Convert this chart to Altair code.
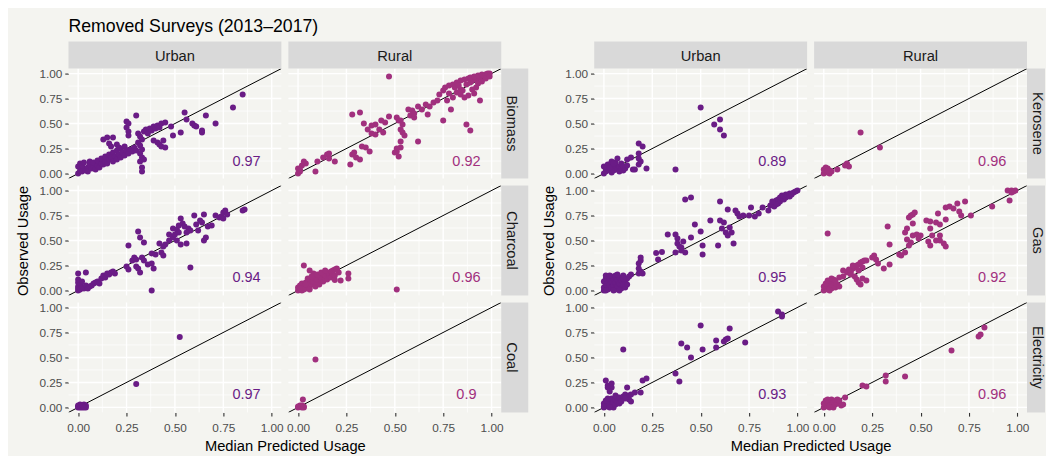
import altair as alt
import pandas as pd

# ------------------------------------------------------------------ data
fuels_left = ["Biomass", "Charcoal", "Coal"]
fuels_right = ["Kerosene", "Gas", "Electricity"]
areas = ["Urban", "Rural"]
tick_values = [0, 0.25, 0.5, 0.75, 1]
minor_values = [0.125, 0.375, 0.625, 0.875]

r_urban = ["0.97", "0.94", "0.97", "0.89", "0.95", "0.93"]
r_rural = ["0.92", "0.96", "0.9", "0.96", "0.92", "0.96"]

biomass_urban = [
    [0.00, 0.00], [0.01, 0.03], [0.00, 0.07], [0.02, 0.02], [0.01, 0.10], [0.03, 0.05], [0.02, 0.08],
    [0.04, 0.03], [0.03, 0.11], [0.05, 0.06], [0.05, 0.02], [0.06, 0.09], [0.07, 0.05], [0.06, 0.12],
    [0.08, 0.07], [0.09, 0.04], [0.08, 0.11], [0.10, 0.08], [0.10, 0.13], [0.11, 0.06], [0.12, 0.10],
    [0.12, 0.15], [0.13, 0.09], [0.14, 0.12], [0.14, 0.17], [0.15, 0.10], [0.16, 0.14], [0.16, 0.19],
    [0.17, 0.16], [0.18, 0.12], [0.18, 0.21], [0.19, 0.17], [0.20, 0.14], [0.20, 0.23], [0.21, 0.19],
    [0.22, 0.16], [0.22, 0.25], [0.23, 0.21], [0.24, 0.18], [0.24, 0.27], [0.25, 0.23], [0.26, 0.20],
    [0.27, 0.24], [0.28, 0.22], [0.29, 0.26], [0.30, 0.23],
    [0.13, 0.34], [0.15, 0.36], [0.16, 0.30], [0.18, 0.36], [0.20, 0.29], [0.17, 0.27], [0.21, 0.26],
    [0.25, 0.52], [0.25, 0.46], [0.26, 0.42], [0.26, 0.38], [0.26, 0.50], [0.30, 0.58],
    [0.31, 0.40], [0.32, 0.37], [0.33, 0.34], [0.31, 0.31], [0.34, 0.42], [0.35, 0.44], [0.36, 0.40],
    [0.37, 0.45], [0.38, 0.43], [0.39, 0.47], [0.40, 0.45], [0.41, 0.48], [0.42, 0.46], [0.43, 0.50],
    [0.45, 0.51], [0.48, 0.47],
    [0.32, 0.28], [0.33, 0.24], [0.32, 0.20], [0.33, 0.16], [0.32, 0.12], [0.33, 0.06], [0.33, 0.02],
    [0.34, 0.14],
    [0.39, 0.33], [0.41, 0.31], [0.42, 0.29], [0.43, 0.27], [0.45, 0.26], [0.44, 0.33], [0.49, 0.38],
    [0.53, 0.41], [0.55, 0.61], [0.56, 0.54], [0.59, 0.50], [0.60, 0.48], [0.61, 0.47], [0.64, 0.41],
    [0.64, 0.43], [0.66, 0.58], [0.71, 0.50], [0.80, 0.66], [0.85, 0.79],
]

biomass_rural = [
    [0.00, 0.00], [0.01, 0.02], [0.00, 0.05], [0.02, 0.08], [0.03, 0.12], [0.01, 0.04], [0.04, 0.10],
    [0.09, 0.02], [0.10, 0.12], [0.13, 0.16], [0.15, 0.19], [0.16, 0.15], [0.19, 0.12], [0.16, 0.20],
    [0.27, 0.09], [0.28, 0.19], [0.30, 0.16], [0.32, 0.14], [0.33, 0.27], [0.35, 0.26], [0.37, 0.22],
    [0.29, 0.21],
    [0.28, 0.59], [0.32, 0.61], [0.34, 0.50], [0.38, 0.48], [0.40, 0.49], [0.43, 0.53], [0.45, 0.51],
    [0.47, 0.57], [0.42, 0.44], [0.44, 0.41], [0.40, 0.39], [0.36, 0.44], [0.38, 0.40],
    [0.47, 0.97],
    [0.51, 0.56], [0.52, 0.53], [0.53, 0.53], [0.54, 0.49], [0.53, 0.44], [0.54, 0.41], [0.55, 0.38],
    [0.53, 0.32], [0.53, 0.26], [0.51, 0.22], [0.50, 0.21], [0.52, 0.17], [0.51, 0.25],
    [0.57, 0.64], [0.59, 0.63], [0.62, 0.67], [0.58, 0.58], [0.60, 0.56], [0.62, 0.32], [0.67, 0.59],
    [0.68, 0.67], [0.66, 0.69], [0.70, 0.71], [0.72, 0.73], [0.73, 0.79], [0.64, 0.64], [0.60, 0.60],
    [0.75, 0.53], [0.79, 0.64], [0.77, 0.73], [0.80, 0.76], [0.82, 0.81], [0.84, 0.84], [0.85, 0.83],
    [0.87, 0.89], [0.89, 0.91], [0.90, 0.93], [0.92, 0.94], [0.94, 0.96], [0.96, 0.98], [0.97, 0.99],
    [0.99, 1.00],
    [0.75, 0.83], [0.76, 0.86], [0.78, 0.88], [0.80, 0.89], [0.82, 0.91], [0.84, 0.93], [0.86, 0.94],
    [0.88, 0.95], [0.89, 0.96], [0.91, 0.97], [0.93, 0.98], [0.95, 0.99], [0.97, 0.99], [0.98, 1.00],
    [0.84, 0.79], [0.86, 0.76], [0.88, 0.78], [0.91, 0.80], [0.94, 0.73], [0.87, 0.49], [0.89, 0.43],
    [0.92, 0.86], [0.90, 0.84], [0.81, 0.86], [0.78, 0.80], [0.83, 0.88], [0.95, 0.92], [0.97, 0.95],
    [0.99, 0.97], [0.93, 0.90],
]

charcoal_urban = [
    [0.00, 0.00], [0.00, 0.02], [0.00, 0.04], [0.01, 0.06], [0.00, 0.08], [0.00, 0.11], [0.00, 0.17],
    [0.01, 0.01], [0.02, 0.03], [0.03, 0.02], [0.04, 0.05], [0.02, 0.09], [0.04, 0.18], [0.05, 0.02],
    [0.06, 0.04], [0.07, 0.05], [0.08, 0.07], [0.09, 0.08], [0.10, 0.09], [0.11, 0.07], [0.12, 0.12],
    [0.13, 0.15], [0.14, 0.13], [0.15, 0.17], [0.16, 0.16], [0.17, 0.18], [0.18, 0.19], [0.19, 0.17],
    [0.25, 0.24], [0.26, 0.21], [0.26, 0.45], [0.28, 0.30], [0.29, 0.33], [0.30, 0.31], [0.30, 0.24],
    [0.31, 0.22], [0.32, 0.18], [0.31, 0.59], [0.32, 0.53], [0.34, 0.48], [0.33, 0.33], [0.34, 0.30],
    [0.36, 0.26], [0.38, 0.27], [0.39, 0.22], [0.38, 0.00], [0.38, 0.37], [0.40, 0.36],
    [0.42, 0.47], [0.44, 0.44], [0.43, 0.38], [0.44, 0.35], [0.45, 0.46], [0.47, 0.50], [0.49, 0.53],
    [0.50, 0.56], [0.49, 0.62], [0.51, 0.61], [0.52, 0.65], [0.53, 0.72], [0.54, 0.67], [0.55, 0.64],
    [0.52, 0.58], [0.51, 0.50], [0.53, 0.46], [0.56, 0.47], [0.57, 0.62], [0.58, 0.23],
    [0.60, 0.75], [0.61, 0.66], [0.62, 0.60], [0.63, 0.70], [0.64, 0.68], [0.65, 0.76], [0.66, 0.53],
    [0.65, 0.50], [0.67, 0.64], [0.69, 0.65], [0.71, 0.75], [0.73, 0.73], [0.74, 0.74], [0.75, 0.78],
    [0.76, 0.80], [0.77, 0.76], [0.75, 0.72], [0.85, 0.80], [0.86, 0.81], [0.58, 0.60], [0.56, 0.58],
    [0.47, 0.56],
]

charcoal_rural = [
    [0.00, 0.00], [0.01, 0.01], [0.00, 0.03], [0.02, 0.02], [0.01, 0.05], [0.03, 0.04], [0.02, 0.07],
    [0.04, 0.02], [0.05, 0.05], [0.04, 0.08], [0.06, 0.03], [0.06, 0.07], [0.07, 0.10], [0.05, 0.12],
    [0.08, 0.06], [0.08, 0.09], [0.09, 0.12], [0.09, 0.04], [0.10, 0.08], [0.10, 0.11], [0.11, 0.14],
    [0.11, 0.06], [0.12, 0.10], [0.12, 0.13], [0.13, 0.16], [0.13, 0.09], [0.14, 0.12], [0.14, 0.15],
    [0.15, 0.18], [0.15, 0.11], [0.16, 0.14], [0.16, 0.17], [0.17, 0.19], [0.17, 0.13], [0.18, 0.16],
    [0.18, 0.20], [0.19, 0.21], [0.19, 0.15], [0.20, 0.22], [0.21, 0.18], [0.20, 0.21], [0.03, 0.25],
    [0.06, 0.20], [0.08, 0.17], [0.07, 0.14], [0.10, 0.16], [0.12, 0.18], [0.14, 0.20], [0.26, 0.17],
    [0.26, 0.12], [0.22, 0.10], [0.19, 0.105], [0.51, 0.01], [0.02, 0.00], [0.03, 0.01], [0.01, 0.02],
    [0.06, 0.01], [0.04, 0.06],
]

coal_urban = [
    [0.00, 0.00], [0.01, 0.00], [0.02, 0.01], [0.00, 0.02], [0.01, 0.03], [0.02, 0.00], [0.03, 0.01],
    [0.03, 0.03], [0.04, 0.02], [0.04, 0.00], [0.00, 0.01], [0.01, 0.01], [0.02, 0.02], [0.03, 0.00],
    [0.30, 0.235], [0.525, 0.705],
]

coal_rural = [
    [0.00, 0.00], [0.01, 0.01], [0.02, 0.00], [0.01, 0.02], [0.03, 0.01], [0.02, 0.02], [0.00, 0.01],
    [0.03, 0.00], [0.025, 0.08], [0.09, 0.48],
]

kerosene_urban = [
    [0.00, 0.00], [0.01, 0.02], [0.02, 0.05], [0.00, 0.07], [0.03, 0.03], [0.03, 0.09], [0.04, 0.01],
    [0.05, 0.06], [0.05, 0.03], [0.06, 0.08], [0.06, 0.11], [0.07, 0.04], [0.07, 0.15], [0.08, 0.07],
    [0.08, 0.02], [0.09, 0.05], [0.09, 0.10], [0.10, 0.03], [0.10, 0.07], [0.11, 0.05], [0.12, 0.08],
    [0.12, 0.14], [0.14, 0.16], [0.15, 0.04], [0.04, 0.12], [0.02, 0.09], [0.01, 0.05], [0.03, 0.06],
    [0.05, 0.10], [0.16, 0.04], [0.18, 0.09], [0.18, 0.20], [0.19, 0.12], [0.22, 0.05], [0.18, 0.15],
    [0.18, 0.30], [0.20, 0.27],
    [0.37, 0.04], [0.50, 0.66], [0.57, 0.49], [0.60, 0.54], [0.60, 0.44], [0.62, 0.38],
]

kerosene_rural = [
    [0.00, 0.00], [0.01, 0.02], [0.02, 0.01], [0.00, 0.04], [0.02, 0.05], [0.03, 0.03], [0.01, 0.06],
    [0.03, 0.00], [0.04, 0.02], [0.02, 0.03], [0.07, 0.04], [0.12, 0.10], [0.13, 0.07], [0.11, 0.08],
    [0.19, 0.41], [0.29, 0.26],
]

gas_urban = [
    [0.00, 0.00], [0.00, 0.03], [0.01, 0.06], [0.00, 0.09], [0.01, 0.12], [0.01, 0.15], [0.02, 0.01],
    [0.02, 0.04], [0.02, 0.08], [0.03, 0.11], [0.03, 0.02], [0.03, 0.06], [0.04, 0.14], [0.04, 0.09],
    [0.04, 0.03], [0.05, 0.05], [0.05, 0.12], [0.06, 0.01], [0.06, 0.08], [0.06, 0.15], [0.07, 0.04],
    [0.07, 0.11], [0.08, 0.07], [0.08, 0.13], [0.09, 0.02], [0.09, 0.10], [0.10, 0.06], [0.10, 0.15],
    [0.11, 0.09], [0.11, 0.03], [0.12, 0.12], [0.12, 0.06], [0.13, 0.14], [0.14, 0.16], [0.05, 0.00],
    [0.08, 0.00], [0.01, 0.00], [0.03, 0.15], [0.10, 0.12], [0.07, 0.16],
    [0.18, 0.17], [0.18, 0.22], [0.18, 0.27], [0.19, 0.30], [0.19, 0.33], [0.19, 0.19], [0.20, 0.17],
    [0.27, 0.375], [0.30, 0.385], [0.28, 0.31], [0.33, 0.56], [0.37, 0.56], [0.38, 0.52], [0.38, 0.47],
    [0.39, 0.44], [0.40, 0.40], [0.37, 0.38], [0.41, 0.49], [0.40, 0.43], [0.42, 0.38], [0.42, 0.91],
    [0.45, 0.93], [0.45, 0.53], [0.47, 0.66], [0.50, 0.59], [0.51, 0.45], [0.51, 0.36], [0.55, 0.70],
    [0.59, 0.45], [0.60, 0.89], [0.60, 0.70], [0.61, 0.62], [0.62, 0.68], [0.63, 0.58], [0.64, 0.55],
    [0.64, 0.81], [0.65, 0.63], [0.66, 0.58], [0.67, 0.47], [0.68, 0.80], [0.69, 0.77], [0.70, 0.74],
    [0.72, 0.75], [0.75, 0.75], [0.76, 0.83], [0.78, 0.74], [0.80, 0.77], [0.82, 0.83],
    [0.85, 0.80], [0.86, 0.85], [0.87, 0.86], [0.88, 0.88], [0.88, 0.84], [0.89, 0.90], [0.90, 0.87],
    [0.90, 0.91], [0.91, 0.89], [0.91, 0.93], [0.92, 0.92], [0.92, 0.95], [0.93, 0.91], [0.93, 0.94],
    [0.94, 0.96], [0.94, 0.93], [0.95, 0.95], [0.96, 0.97], [0.96, 0.94], [0.97, 0.96], [0.98, 0.98],
    [0.99, 0.99], [1.00, 1.00], [0.89, 0.86], [0.87, 0.89],
]

gas_rural = [
    [0.00, 0.00], [0.01, 0.02], [0.00, 0.04], [0.02, 0.01], [0.02, 0.05], [0.03, 0.03], [0.03, 0.07],
    [0.04, 0.02], [0.04, 0.09], [0.05, 0.05], [0.05, 0.11], [0.06, 0.03], [0.06, 0.08], [0.07, 0.06],
    [0.08, 0.04], [0.01, 0.07], [0.02, 0.10], [0.04, 0.12], [0.06, 0.10], [0.03, 0.00],
    [0.02, 0.57],
    [0.10, 0.14], [0.10, 0.20], [0.12, 0.18], [0.14, 0.19], [0.15, 0.22], [0.16, 0.23], [0.17, 0.25],
    [0.18, 0.26], [0.19, 0.28], [0.20, 0.29], [0.21, 0.30], [0.22, 0.30], [0.14, 0.16], [0.16, 0.14],
    [0.17, 0.11], [0.18, 0.08], [0.19, 0.06], [0.20, 0.12], [0.22, 0.10], [0.15, 0.25], [0.18, 0.20],
    [0.20, 0.23], [0.13, 0.21], [0.08, 0.13],
    [0.25, 0.33], [0.26, 0.35], [0.27, 0.31], [0.28, 0.27], [0.31, 0.22], [0.33, 0.64], [0.34, 0.46],
    [0.34, 0.26], [0.39, 0.36], [0.40, 0.35], [0.42, 0.38],
    [0.42, 0.58], [0.43, 0.62], [0.44, 0.73], [0.45, 0.75], [0.46, 0.76], [0.47, 0.78], [0.43, 0.51],
    [0.45, 0.48], [0.44, 0.45], [0.46, 0.55], [0.48, 0.56], [0.50, 0.55], [0.46, 0.67], [0.49, 0.52],
    [0.53, 0.70], [0.55, 0.69], [0.59, 0.77], [0.58, 0.68], [0.55, 0.62], [0.56, 0.55], [0.54, 0.49],
    [0.55, 0.45], [0.58, 0.50], [0.60, 0.50], [0.62, 0.47], [0.63, 0.44], [0.60, 0.55], [0.60, 0.66],
    [0.63, 0.71], [0.63, 0.83], [0.65, 0.84], [0.67, 0.82], [0.69, 0.87], [0.70, 0.79], [0.71, 0.75],
    [0.73, 0.89], [0.76, 0.75], [0.87, 0.84], [0.95, 1.00], [0.96, 0.90], [0.97, 1.00], [0.98, 0.99],
    [0.99, 1.00], [0.97, 0.98],
]

electricity_urban = [
    [0.00, 0.00], [0.01, 0.02], [0.00, 0.04], [0.02, 0.01], [0.02, 0.05], [0.03, 0.03], [0.03, 0.07],
    [0.04, 0.02], [0.04, 0.09], [0.05, 0.05], [0.05, 0.00], [0.06, 0.03], [0.06, 0.08], [0.07, 0.06],
    [0.08, 0.04], [0.01, 0.07], [0.02, 0.09], [0.07, 0.10], [0.00, 0.01], [0.03, 0.00],
    [0.01, 0.27], [0.02, 0.22], [0.04, 0.20], [0.04, 0.24], [0.02, 0.20], [0.03, 0.16], [0.10, 0.58],
    [0.06, 0.12], [0.08, 0.10], [0.10, 0.11], [0.11, 0.13], [0.12, 0.20], [0.13, 0.12], [0.13, 0.08],
    [0.14, 0.06], [0.14, 0.13], [0.16, 0.15], [0.19, 0.15], [0.20, 0.27], [0.22, 0.29], [0.11, 0.09],
    [0.09, 0.06],
    [0.37, 0.34], [0.39, 0.26], [0.40, 0.64], [0.43, 0.60], [0.45, 0.50], [0.50, 0.82], [0.51, 0.58],
    [0.58, 0.60], [0.58, 0.67], [0.62, 0.66], [0.63, 0.68], [0.64, 0.69], [0.65, 0.79], [0.73, 0.65],
    [0.90, 0.96], [0.92, 0.93], [0.92, 0.91],
]

electricity_rural = [
    [0.00, 0.00], [0.01, 0.02], [0.00, 0.04], [0.02, 0.01], [0.02, 0.05], [0.03, 0.03], [0.03, 0.07],
    [0.04, 0.02], [0.04, 0.08], [0.05, 0.05], [0.05, 0.00], [0.06, 0.03], [0.06, 0.07], [0.07, 0.05],
    [0.08, 0.04], [0.01, 0.07], [0.02, 0.08], [0.07, 0.08], [0.09, 0.02], [0.03, 0.00], [0.08, 0.07],
    [0.10, 0.03],
    [0.11, 0.10], [0.20, 0.22], [0.22, 0.21], [0.32, 0.32], [0.32, 0.26], [0.42, 0.31], [0.66, 0.57],
    [0.80, 0.71], [0.81, 0.73], [0.83, 0.80],
]

panel_points = {
    ("Biomass", "Urban"): biomass_urban, ("Biomass", "Rural"): biomass_rural,
    ("Charcoal", "Urban"): charcoal_urban, ("Charcoal", "Rural"): charcoal_rural,
    ("Coal", "Urban"): coal_urban, ("Coal", "Rural"): coal_rural,
    ("Kerosene", "Urban"): kerosene_urban, ("Kerosene", "Rural"): kerosene_rural,
    ("Gas", "Urban"): gas_urban, ("Gas", "Rural"): gas_rural,
    ("Electricity", "Urban"): electricity_urban, ("Electricity", "Rural"): electricity_rural,
}
all_fuels = fuels_left + fuels_right
panel_r = {}
for i, f in enumerate(all_fuels):
    panel_r[(f, "Urban")] = r_urban[i]
    panel_r[(f, "Rural")] = r_rural[i]

# ------------------------------------------------------------------ style
FONT = "Liberation Sans"
BG = "#f4f4f0"
STRIP_FILL = "#d9d9d9"
STRIP_TEXT = "#1a1a1a"
COLORS = {"Urban": "#6a1c86", "Rural": "#a1307e"}
W, H = 213, 110
STRIP_H = 27
DOMAIN = [-0.05, 1.05]
scale = alt.Scale(domain=DOMAIN, nice=False, zero=False)


def x_axis(title):
    kw = dict(values=tick_values, format=".2f", grid=False, domain=False,
              tickColor="#333333", tickSize=3.7, tickWidth=1.1,
              labelColor="#4d4d4d", labelFontSize=11.8, labelPadding=6,
              labelFont=FONT, labelFlush=False)
    if title:
        kw.update(title=title, titleX=216.5, titleY=38, titleAlign="center",
                  titleBaseline="alphabetic", titleFontSize=14.7,
                  titleFontWeight="normal", titleColor="#000000", titleFont=FONT)
    else:
        kw["title"] = None
    return alt.Axis(**kw)


def y_axis(title):
    kw = dict(values=tick_values, format=".2f", grid=False, domain=False,
              tickColor="#333333", tickSize=3.7, tickWidth=1.1,
              labelColor="#4d4d4d", labelFontSize=11.8, labelPadding=2.9,
              labelFont=FONT, labelFlush=False)
    if title:
        kw.update(title=title, titleX=-41.2, titleY=H / 2, titleAngle=270,
                  titleAlign="center", titleBaseline="alphabetic",
                  titleFontSize=14.7, titleFontWeight="normal",
                  titleColor="#000000", titleFont=FONT)
    else:
        kw["title"] = None
    return alt.Axis(**kw)


def panel(fuel, area, row, strip_w):
    color = COLORS[area]
    left = area == "Urban"
    xa = x_axis("Median Predicted Usage" if left else None) if row == 2 else None
    ya = y_axis("Observed Usage" if row == 1 else None) if left else None
    X = alt.X("x:Q", scale=scale, axis=xa)
    Y = alt.Y("y:Q", scale=scale, axis=ya)

    pts = pd.DataFrame(panel_points[(fuel, area)], columns=["x", "y"])
    vmaj = alt.Chart(pd.DataFrame({"x": tick_values})).mark_rule(
        color="white", strokeWidth=1.4).encode(x=X)
    vmin = alt.Chart(pd.DataFrame({"x": minor_values})).mark_rule(
        color="white", strokeWidth=0.7).encode(x=X)
    hmaj = alt.Chart(pd.DataFrame({"y": tick_values})).mark_rule(
        color="white", strokeWidth=1.4).encode(y=Y)
    hmin = alt.Chart(pd.DataFrame({"y": minor_values})).mark_rule(
        color="white", strokeWidth=0.7).encode(y=Y)
    diag = alt.Chart(pd.DataFrame({"x": DOMAIN, "y": DOMAIN})).mark_line(
        color="#000000", strokeWidth=1.0, clip=True).encode(x=X, y=Y)
    dots = alt.Chart(pts).mark_circle(size=36, opacity=1, color=color).encode(x=X, y=Y)
    lab = alt.Chart(pd.DataFrame({"x": [0.87], "y": [0.12], "t": [panel_r[(fuel, area)]]})).mark_text(
        fontSize=14.5, color=color, font=FONT, align="center", baseline="middle").encode(
        x=X, y=Y, text="t:N")
    layers = [vmin, hmin, vmaj, hmaj, diag, dots, lab]

    one = pd.DataFrame({"v": [0]})
    if row == 0:
        layers.append(alt.Chart(one).mark_rect(color=STRIP_FILL).encode(
            x=alt.value(0), x2=alt.value(W), y=alt.value(-STRIP_H), y2=alt.value(0)))
        layers.append(alt.Chart(one).mark_text(
            text=area, fontSize=14.7, color=STRIP_TEXT, font=FONT,
            align="center", baseline="alphabetic").encode(
            x=alt.value(W / 2), y=alt.value(-7.4)))
    if not left:
        layers.append(alt.Chart(one).mark_rect(color=STRIP_FILL).encode(
            x=alt.value(W), x2=alt.value(W + strip_w), y=alt.value(0), y2=alt.value(H)))
        layers.append(alt.Chart(one).mark_text(
            text=fuel, fontSize=14.7, color=STRIP_TEXT, font=FONT, angle=90,
            align="center", baseline="alphabetic").encode(
            x=alt.value(W + 5.5), y=alt.value(H / 2)))
    return alt.layer(*layers).properties(width=W, height=H)


def spacer():
    return alt.Chart(pd.DataFrame({"v": [0]})).mark_point(opacity=0).encode(
        x=alt.value(0), y=alt.value(0)).properties(width=79, height=H)


cells = []
for row in range(3):
    cells.append(panel(fuels_left[row], "Urban", row, 27))
    cells.append(panel(fuels_left[row], "Rural", row, 27))
    cells.append(spacer())
    cells.append(panel(fuels_right[row], "Urban", row, 18))
    cells.append(panel(fuels_right[row], "Rural", row, 18))

chart = alt.concat(*cells, columns=5, spacing=7, bounds="flush").properties(
    title=alt.TitleParams("Removed Surveys (2013\u20132017)", anchor="start", frame="group",
                          fontSize=17.7, fontWeight="normal", color="#000000",
                          font=FONT, offset=-8.5, baseline="alphabetic"),
    background=BG,
    padding={"left": 6.5, "top": 9.5, "right": 0, "bottom": 6},
).configure(font=FONT).configure_view(stroke="transparent")

chart.save("out.html", embed_options={"renderer": "svg", "actions": False})
